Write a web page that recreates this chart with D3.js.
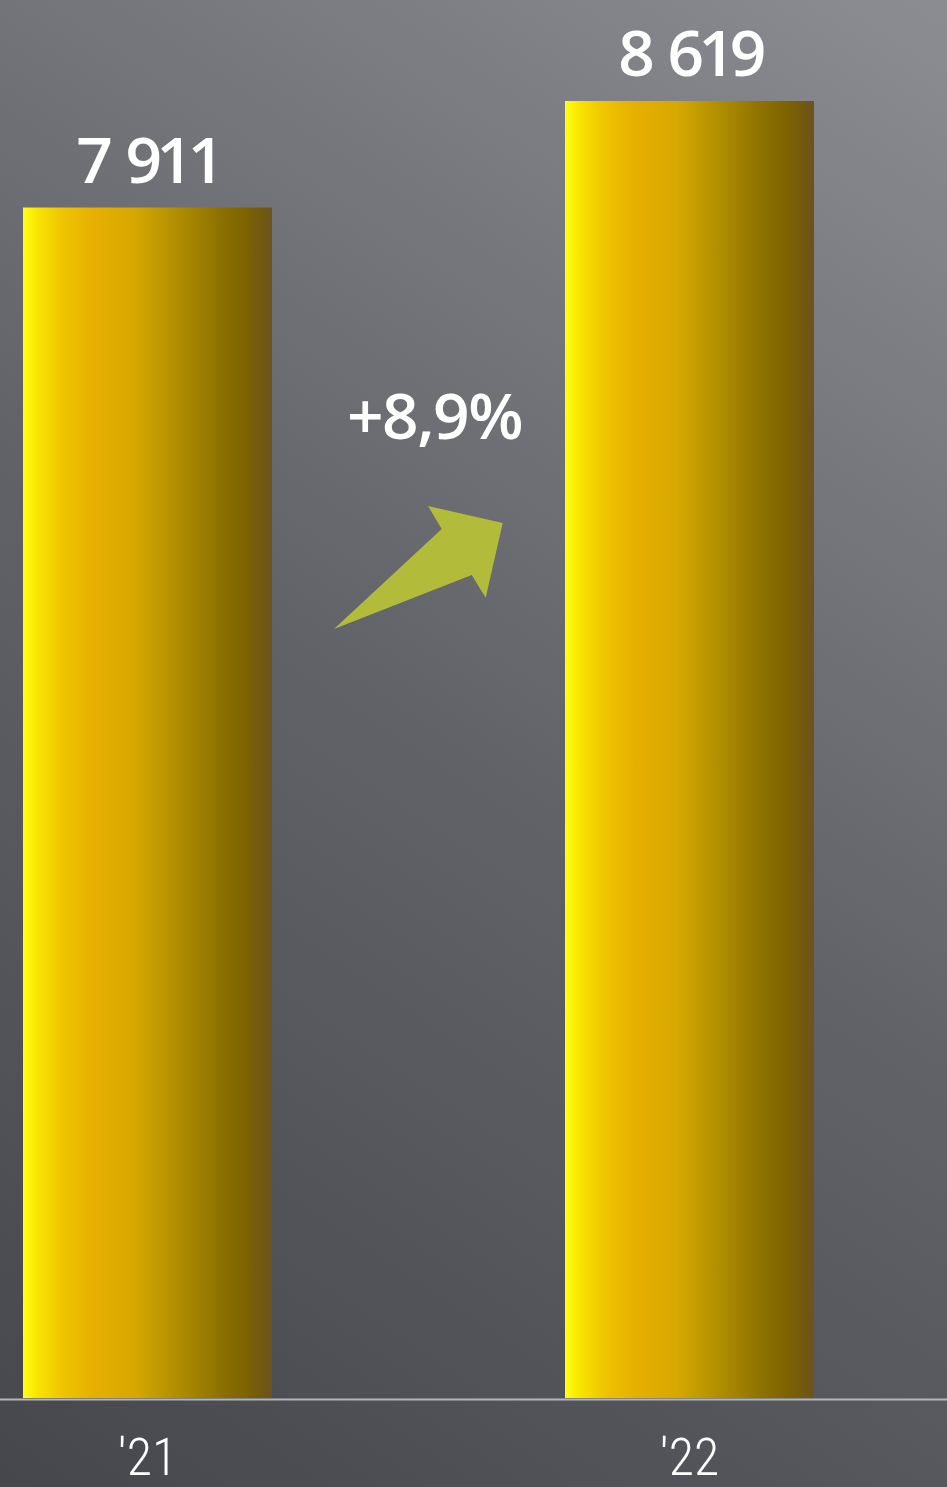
<!DOCTYPE html>
<html><head><meta charset="utf-8">
<script src="https://cdn.jsdelivr.net/npm/d3@7"></script>
<style>html,body{margin:0;padding:0;background:#5f6166;}svg{display:block;}</style>
</head><body>
<script>
const categories = ["'21", "'22"];
const values = [7911, 8619];
const valueLabels = ["7 911", "8 619"];
const changeLabel = "+8,9%";

const W = 947, H = 1487;
const svg = d3.select("body").append("svg").attr("width", W).attr("height", H);
const defs = svg.append("defs");

const bg = defs.append("linearGradient").attr("id","bg").attr("gradientUnits","userSpaceOnUse")
  .attr("x1",0).attr("y1",1487).attr("x2",978).attr("y2",21);
bg.append("stop").attr("offset","0%").attr("stop-color","#45474c");
bg.append("stop").attr("offset","50%").attr("stop-color","#616368");
bg.append("stop").attr("offset","100%").attr("stop-color","#8b8d92");

const bar = defs.append("linearGradient").attr("id","bar")
  .attr("x1","0%").attr("y1","0%").attr("x2","100%").attr("y2","0%");
[["0%","#ffff14"],["6%","#f8e400"],["16%","#eec400"],["28%","#e6b000"],["45%","#d6a800"],["62%","#b08e00"],["80%","#8c7000"],["90%","#7c6200"],["100%","#6c521e"]]
  .forEach(([o,c]) => bar.append("stop").attr("offset",o).attr("stop-color",c));

svg.append("rect").attr("width",W).attr("height",H).attr("fill","url(#bg)");

const x = d3.scaleBand().domain(categories).range([23, 814]).paddingInner(0.5406).paddingOuter(0);
const y = d3.scaleLinear().domain([0, 9290]).range([1398, 0]);

svg.selectAll("rect.bar").data(values).join("rect").attr("class","bar")
  .attr("x",(d,i)=>x(categories[i])).attr("width",x.bandwidth())
  .attr("y",d=>y(d)).attr("height",d=>y(0)-y(d)).attr("fill","url(#bar)");

// baseline
svg.append("line").attr("x1",0).attr("x2",W).attr("y1",y(0)+1.5).attr("y2",y(0)+1.5)
  .attr("stroke","#b4b5b8").attr("stroke-width",2);

// value labels
svg.selectAll("text.val").data(values).join("text").attr("class","val")
  .attr("x",(d,i)=>x(categories[i])+x.bandwidth()/2).attr("y",d=>y(d)-25)
  .attr("text-anchor","middle").attr("fill","#ffffff")
  .attr("font-family","'Open Sans', sans-serif").attr("font-weight",600).attr("font-size",64)
  .attr("letter-spacing",-5.5).attr("word-spacing",7)
  .text((d,i)=>valueLabels[i]);

// category labels
const xa = svg.append("g").attr("transform",`translate(0,${y(0)})`)
  .call(d3.axisBottom(x).tickSize(0).tickPadding(0));
xa.select(".domain").remove();
xa.selectAll("text").attr("fill","#ffffff").attr("font-size",52)
  .attr("font-family","'Liberation Sans Narrow','Roboto Condensed','DejaVu Sans Condensed',sans-serif")
  .attr("font-weight",300).attr("dy",null).attr("y",77);

// growth annotation
const midX = (x(categories[0]) + x.bandwidth() + x(categories[1])) / 2;
svg.append("text").attr("x",midX+16).attr("y",y(values[1])+338)
  .attr("text-anchor","middle").attr("fill","#ffffff")
  .attr("font-family","'Open Sans', sans-serif").attr("font-weight",600).attr("font-size",64)
  .attr("letter-spacing",-1.5)
  .text(changeLabel);

const ax = midX, ay = y(values[1]) + 422;
const arrow = [[-84.5,106],[23.2,6],[9.5,-17],[84.2,0],[67.2,74.7],[53.2,52]];
svg.append("path").attr("d", d3.line()(arrow.map(p=>[ax+p[0], ay+p[1]])) + "Z")
  .attr("fill","#b3bb3a");
</script>
</body></html>
